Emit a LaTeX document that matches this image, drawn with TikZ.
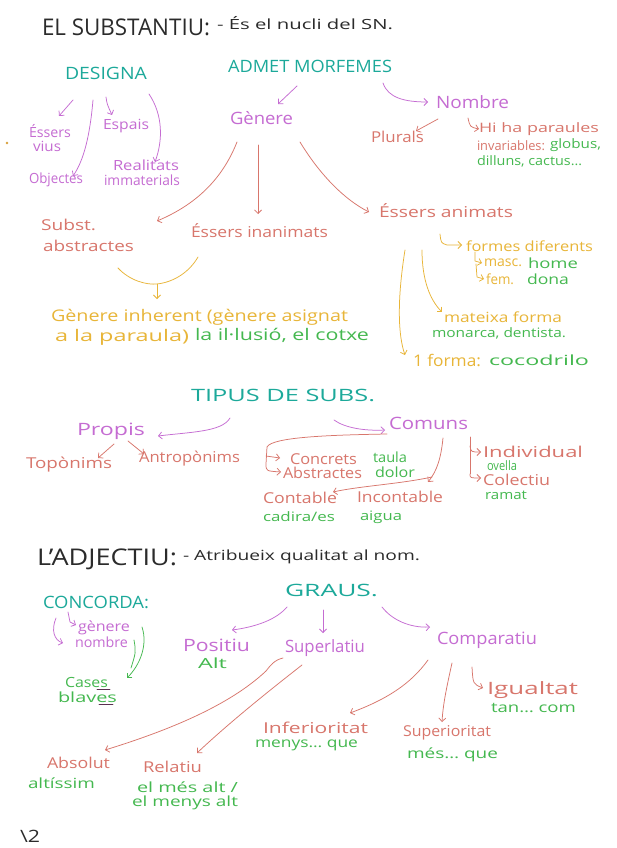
\documentclass[tikz,border=0pt]{standalone}
\usepackage{fontspec}
\setmainfont{Open Sans}
\usepackage{graphicx}
\usetikzlibrary{arrows.meta}
\definecolor{cInk}{HTML}{2B2B2B}
\definecolor{cTeal}{HTML}{1CA99A}
\definecolor{cVio}{HTML}{C56CD2}
\definecolor{cSal}{HTML}{D8766C}
\definecolor{cYel}{HTML}{E8B538}
\definecolor{cGrn}{HTML}{44B84F}
\definecolor{cPur}{HTML}{5A3050}
\newcommand\fw[2]{\resizebox{#1pt}{\height}{#2}}
\tikzset{
 lbl/.style={anchor=west, inner sep=0pt, outer sep=0pt},
 ttl/.style={lbl, text=cInk, font=\fontsize{23}{25}\selectfont},
 subttl/.style={lbl, text=cInk, font=\fontsize{14}{16}\selectfont},
 hd/.style={lbl, text=cTeal, font=\fontsize{17}{19}\selectfont},
 vi/.style={lbl, text=cVio, font=\fontsize{17}{19}\selectfont},
 vis/.style={lbl, text=cVio, font=\fontsize{14}{16}\selectfont},
 sa/.style={lbl, text=cSal, font=\fontsize{15}{17}\selectfont},
 sas/.style={lbl, text=cSal, font=\fontsize{13}{15}\selectfont},
 ye/.style={lbl, text=cYel, font=\fontsize{16}{18}\selectfont},
 yes/.style={lbl, text=cYel, font=\fontsize{14}{16}\selectfont},
 gr/.style={lbl, text=cGrn, font=\fontsize{14}{16}\selectfont},
 grs/.style={lbl, text=cGrn, font=\fontsize{13}{15}\selectfont},
 ln/.style={line width=0.75pt, line cap=round, line join=round},
 arr/.style={ln, -{Straight Barb[length=3.5pt,width=7pt]}},
}
\begin{document}
\begin{tikzpicture}[x=1pt,y=-1pt]
\fill[white] (0,0) rectangle (616,848);
\useasboundingbox (0,0) rectangle (616,848);

% ---------- EL SUBSTANTIU ----------
\node[ttl] (ttlA) at (42,27) {\fw{168}{EL SUBSTANTIU:}};
\node[subttl] (ttlB) at (217,23) {\fw{176}{- És el nucli del SN.}};
\node[hd] (designa) at (65,73) {\fw{82}{DESIGNA}};
\node[hd] (admet) at (228,66) {\fw{164}{ADMET MORFEMES}};
\node[vis] (vius1) at (29,131) {\fw{42}{Éssers}};
\node[vis] (vius2) at (33,146) {\fw{28}{vius}};
\node[vis] (objectes) at (29,180) {\fw{54}{Objectes}};
\node[vis] (espais) at (103,126) {\fw{46}{Espais}};
\node[vis] (realit1) at (113,165) {\fw{66}{Realitats}};
\node[vis] (realit2) at (104,180) {\fw{76}{immaterials}};
\node[vi] (genere) at (230,118) {\fw{63}{Gènere}};
\node[vi] (nombre) at (436,102) {\fw{73}{Nombre}};
\node[sa] (plurals) at (371,137) {\fw{53}{Plurals}};
\node[sas] (hiha1) at (479,129) {\fw{120}{Hi ha paraules}};
\node[sas] (hiha2) at (477,146) {\fw{68}{invariables:}};
\node[grs] (hiha3) at (550,145) {\fw{51}{globus,}};
\node[grs] (hiha4) at (477,161) {\fw{105}{dilluns, cactus\dots}};
\node[sa] (subst1) at (41,225) {\fw{55}{Subst.}};
\node[sa] (subst2) at (43,246) {\fw{91}{abstractes}};
\node[sa] (inanim) at (191,231) {\fw{137}{Éssers inanimats}};
\node[sa] (anim) at (379,211) {\fw{134}{Éssers animats}};
\node[ye] (inh1) at (51,317) {\fw{297}{Gènere inherent (gènere asignat}};
\node[ye] (inh2) at (55,337) {\fw{134}{a la paraula)}};
\node[gr, font=\fontsize{16}{18}\selectfont] (inh3) at (195,335) {\fw{174}{la il·lusió, el cotxe}};
\node[yes] (formes) at (466,246) {\fw{127}{formes diferents}};
\node[yes] (masc) at (484,263) {\fw{38}{masc.}};
\node[gr] (home) at (528,263) {\fw{50}{home}};
\node[yes] (fem) at (486,279) {\fw{28}{fem.}};
\node[gr] (dona) at (527,279) {\fw{42}{dona}};
\node[yes] (mateixa) at (444,317) {\fw{118}{mateixa forma}};
\node[grs] (monarca) at (432,333) {\fw{134}{monarca, dentista.}};
\node[ye] (forma1) at (413,360) {\fw{68}{1 forma:}};
\node[gr] (cocodril) at (489,360) {\fw{100}{cocodrilo}};
\fill[cYel!60!brown] (7,143) circle (1.4);

\draw[arr,cVio] (73,100) coordinate (d1a) -- (59,116) coordinate (d1b);
\draw[arr,cVio] (93,100) coordinate (d2a) .. controls (90,135) and (84,160) .. (73,176) coordinate (d2b);
\draw[arr,cVio] (106,97) coordinate (d3a) .. controls (107,104) .. (112,115) coordinate (d3b);
\draw[arr,cVio] (149,94) coordinate (d4a) .. controls (163,115) and (163,140) .. (155,162) coordinate (d4b);
\draw[arr,cVio] (297,86) coordinate (m1a) -- (278,104) coordinate (m1b);
\draw[arr,cVio] (383,83) coordinate (m2a) .. controls (388,98) and (405,102) .. (428,102) coordinate (m2b);
\draw[arr,cSal] (438,119) coordinate (n1a) -- (416,131) coordinate (n1b);
\draw[arr,cSal] (468,118) coordinate (n2a) .. controls (470,127) .. (479,129) coordinate (n2b);
\draw[arr,cSal] (237,142) coordinate (g1a) .. controls (222,180) and (195,205) .. (157,221) coordinate (g1b);
\draw[arr,cSal] (258,145) coordinate (g2a) -- (258,214) coordinate (g2b);
\draw[arr,cSal] (300,142) coordinate (g3a) .. controls (320,175) and (345,200) .. (369,212) coordinate (g3b);
\draw[ln,cYel] (118,268) coordinate (b1) .. controls (130,281) and (147,285) .. (157,284) coordinate (b2) .. controls (175,282) and (190,271) .. (198,257) coordinate (b3);
\draw[arr,cYel] (b2) -- (157,299) coordinate (b4);
\draw[arr,cYel] (440,234) coordinate (f1a) .. controls (441,243) .. (447,245) -- (462,245) coordinate (f1b);
\draw[arr,cYel] (475,252) coordinate (f2a) -- (475,261) -- (482,263) coordinate (f2b);
\draw[arr,cYel] (476,264) coordinate (f3a) -- (477,277) -- (484,279) coordinate (f3b);
\draw[arr,cYel] (405,250) coordinate (f4a) .. controls (397,300) and (398,335) .. (405,355) coordinate (f4b);
\draw[arr,cYel] (422,250) coordinate (f5a) .. controls (422,280) and (430,300) .. (442,312) coordinate (f5b);

% ---------- TIPUS DE SUBS ----------
\node[hd] (tipus) at (191,395) {\fw{184}{TIPUS DE SUBS.}};
\node[vi] (propis) at (77,431) {\fw{68}{Propis}};
\node[vi] (comuns) at (389,423) {\fw{79}{Comuns}};
\node[sa] (toponims) at (26,465) {\fw{86}{Topònims}};
\node[sa] (antrop) at (139,459) {\fw{101}{Antropònims}};
\node[sa] (concrets) at (290,459) {\fw{67}{Concrets}};
\node[gr] (taula) at (373,457) {\fw{34}{taula}};
\node[sa] (abstr) at (283,473) {\fw{79}{Abstractes}};
\node[gr] (dolor) at (375,472) {\fw{40}{dolor}};
\node[sa] (contable) at (263,498) {\fw{74}{Contable}};
\node[grs] (cadira) at (263,517) {\fw{72}{cadira/es}};
\node[sa] (incont) at (357,497) {\fw{86}{Incontable}};
\node[grs] (aigua) at (360,517) {\fw{42}{aigua}};
\node[sa] (indiv) at (483,452) {\fw{100}{Individual}};
\node[grs] (ovella) at (487,466) {\fw{30}{ovella}};
\node[sa] (colect) at (483,480) {\fw{67}{Colectiu}};
\node[grs] (ramat) at (485,495) {\fw{42}{ramat}};

\draw[arr,cVio] (230,418) coordinate (t1a) .. controls (222,432) and (190,432) .. (158,436) coordinate (t1b);
\draw[arr,cVio] (334,420) coordinate (t2a) .. controls (345,428) and (365,431) .. (385,430) coordinate (t2b);
\draw[arr,cSal] (114,444) coordinate (p1a) -- (98,458) coordinate (p1b);
\draw[arr,cSal] (128,441) coordinate (p2a) -- (144,454) coordinate (p2b);
\draw[arr,cSal] (387,434) coordinate (c1a) .. controls (330,435) and (272,437) .. (267,447) -- (266,464) .. controls (266,471) .. (281,472) coordinate (c1b);
\draw[arr,cSal] (266,456) coordinate (c2a) -- (280,458) coordinate (c2b);
\draw[arr,cSal] (443,438) coordinate (c3a) .. controls (441,458) and (437,471) .. (428,482) coordinate (c3b);
\draw[arr,cSal] (432,477) coordinate (c4a) .. controls (400,484) and (360,486) .. (333,492) coordinate (c4b);
\draw[ln,cSal] (470,437) coordinate (c5a) -- (470,474);
\draw[arr,cSal] (470,474) .. controls (470,478) .. (481,478) coordinate (c5b);
\draw[arr,cSal] (470,446) coordinate (c6a) .. controls (471,452) .. (481,452) coordinate (c6b);

% ---------- L'ADJECTIU ----------
\node[ttl] (adjA) at (37,559) {\fw{140}{L'ADJECTIU:}};
\node[subttl] (adjB) at (183,557) {\fw{237}{- Atribueix qualitat al nom.}};
\node[hd] (concorda) at (43,602) {\fw{106}{CONCORDA:}};
\node[hd] (graus) at (285,590) {\fw{93}{GRAUS.}};
\node[vis] (gen2) at (78,628) {\fw{52}{gènere}};
\node[vis] (nom2) at (75,642) {\fw{53}{nombre}};
\node[gr] (cases) at (65,682) {\fw{43}{Cases}};
\node[gr] (blaves) at (58,697) {\fw{59}{blaves}};
\node[vi] (positiu) at (183,645) {\fw{67}{Positiu}};
\node[gr] (alt) at (198,663) {\fw{29}{Alt}};
\node[vi] (superl) at (285,648) {\fw{80}{Superlatiu}};
\node[vi] (compar) at (437,640) {\fw{100}{Comparatiu}};
\node[sa] (absolut) at (47,763) {\fw{63}{Absolut}};
\node[gr] (altissim) at (28,783) {\fw{67}{altíssim}};
\node[sa] (relatiu) at (143,767) {\fw{59}{Relatiu}};
\node[gr] (mesalt) at (137,787) {\fw{101}{el més alt /}};
\node[gr] (menysalt) at (132,803) {\fw{106}{el menys alt}};
\node[sa] (inferior) at (263,728) {\fw{105}{Inferioritat}};
\node[gr] (menysque) at (255,745) {\fw{103}{menys\dots\ que}};
\node[sa] (superior) at (403,733) {\fw{88}{Superioritat}};
\node[gr] (mesque) at (407,755) {\fw{91}{més\dots\ que}};
\node[sa, font=\fontsize{17}{19}\selectfont] (igualtat) at (487,690) {\fw{91}{Igualtat}};
\node[gr] (tancom) at (491,708) {\fw{85}{tan\dots\ com}};
\node[lbl, text=cInk, font=\fontsize{17}{19}\selectfont] (page) at (20,836) {\fw{20}{\textbackslash 2}};

\draw[arr,cVio] (68,612) coordinate (k1a) -- (70,622) -- (76,625) coordinate (k1b);
\draw[arr,cVio] (56,618) coordinate (k2a) .. controls (51,630) and (54,640) .. (63,643) coordinate (k2b);
\draw[arr,cGrn] (142,627) coordinate (k3a) .. controls (148,645) and (140,665) .. (127,678) coordinate (k3b);
\draw[ln,cGrn] (134,640) coordinate (k4a) .. controls (136,652) .. (131,668) coordinate (k4b);
\draw[ln,cPur] (97,689) coordinate (u1a) -- (110,689) coordinate (u1b);
\draw[ln,cPur] (99,704) coordinate (u2a) -- (113,704) coordinate (u2b);
\draw[arr,cVio] (287,607) coordinate (r1a) .. controls (276,620) and (255,627) .. (232,630) coordinate (r1b);
\draw[arr,cVio] (323,610) coordinate (r2a) -- (323,633) coordinate (r2b);
\draw[arr,cVio] (382,607) coordinate (r3a) .. controls (392,620) and (410,628) .. (430,627) coordinate (r3b);
\draw[arr,cSal] (283,658) coordinate (s1a) .. controls (274,660) and (270,666) .. (266,671) .. controls (230,705) and (170,730) .. (105,750) coordinate (s1b);
\draw[arr,cSal] (302,665) coordinate (s2a) .. controls (270,690) and (230,722) .. (197,753) coordinate (s2b);
\draw[arr,cSal] (428,660) coordinate (s3a) .. controls (410,685) and (385,700) .. (350,713) coordinate (s3b);
\draw[arr,cSal] (452,663) coordinate (s4a) .. controls (446,690) and (443,705) .. (442,722) coordinate (s4b);
\draw[arr,cSal] (472,667) coordinate (s5a) .. controls (473,684) .. (483,688) coordinate (s5b);
\end{tikzpicture}
\end{document}
